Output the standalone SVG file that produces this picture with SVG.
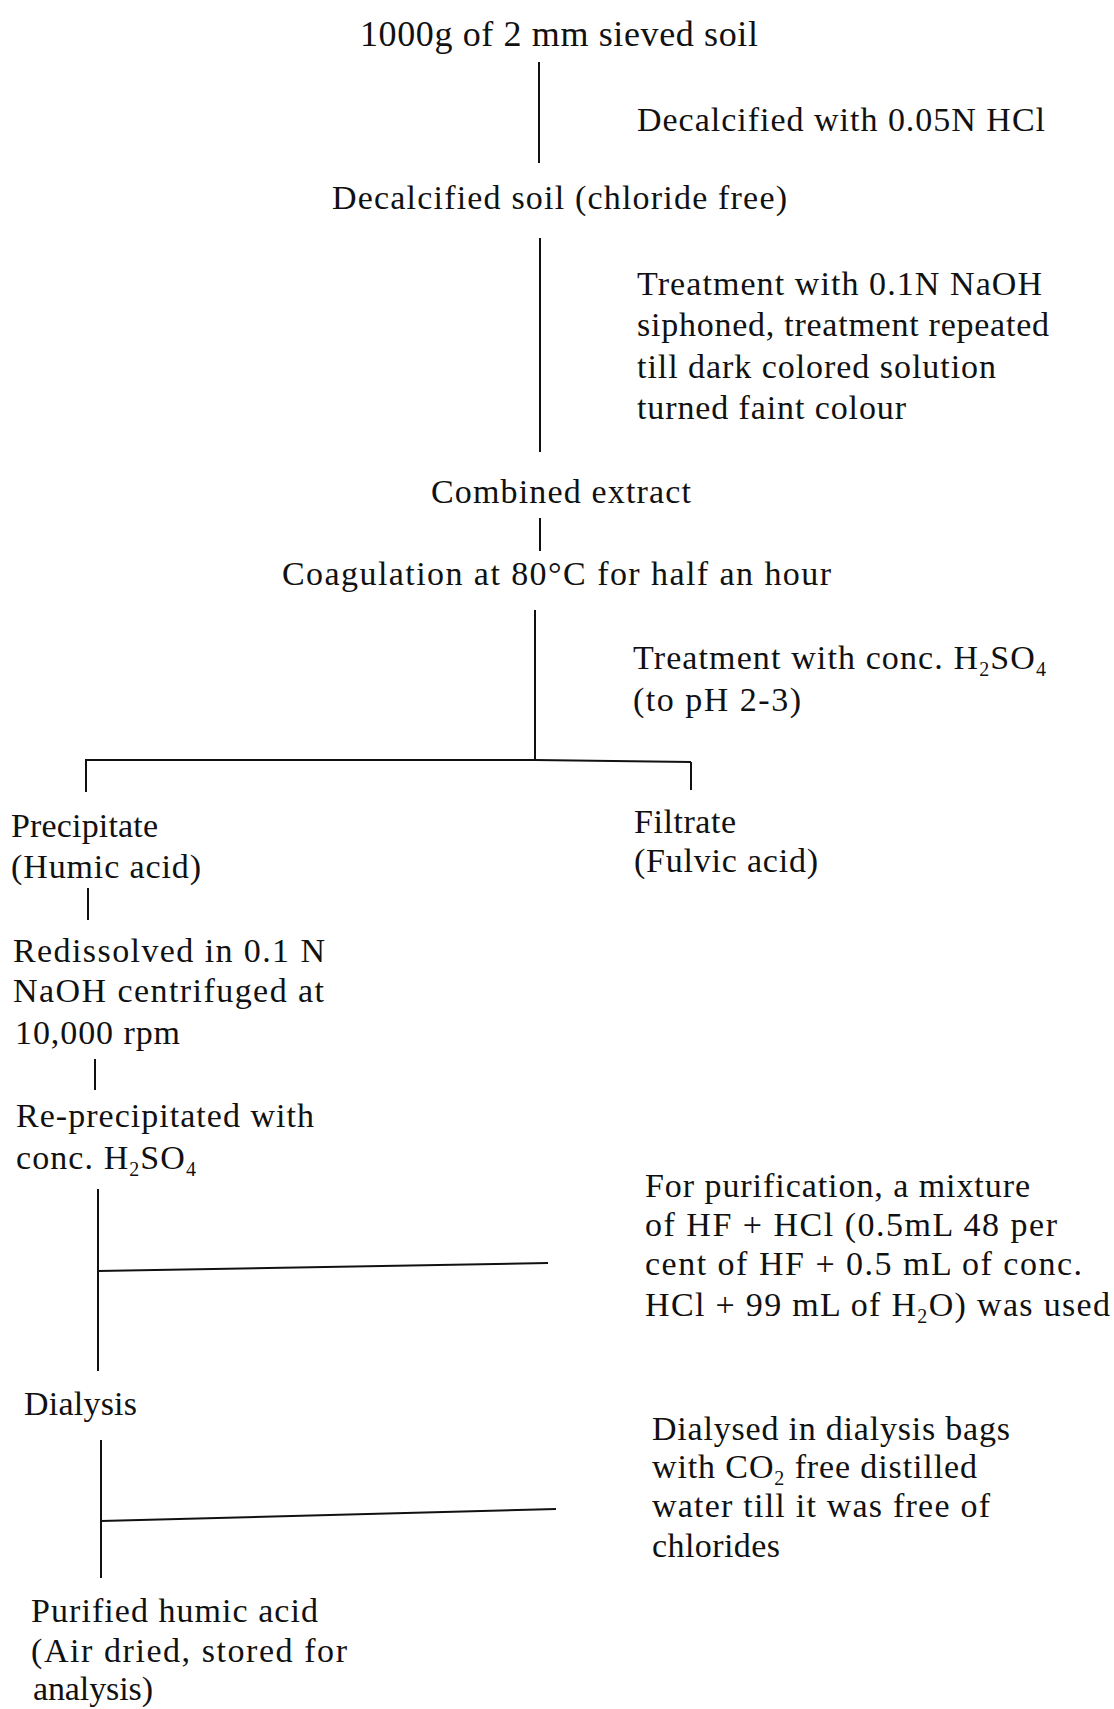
<svg xmlns="http://www.w3.org/2000/svg" width="1114" height="1709" viewBox="0 0 1114 1709">
<style>
text{font-family:"Liberation Serif","Times New Roman",serif;font-size:34px;fill:#111}
.t{font-size:36px}
.sub{font-size:20px}
.c line,.c path{stroke:#111;stroke-width:2;fill:none}
</style>
<rect width="1114" height="1709" fill="#fff"/>
<g class="c" id="connectors">
<line x1="539" y1="62" x2="539" y2="163"/>
<line x1="540" y1="238" x2="540" y2="452"/>
<line x1="540" y1="518" x2="540" y2="551"/>
<line x1="535" y1="610" x2="535" y2="760"/>
<path d="M85,760 L535,760 L691,762"/>
<line x1="86" y1="760" x2="86" y2="792"/>
<line x1="691" y1="762" x2="691" y2="790"/>
<line x1="88" y1="888" x2="88" y2="920"/>
<line x1="95" y1="1059" x2="95" y2="1090"/>
<line x1="98" y1="1189" x2="98" y2="1371"/>
<line x1="98" y1="1271" x2="548" y2="1263"/>
<line x1="101" y1="1440" x2="101" y2="1578"/>
<line x1="101" y1="1521" x2="556" y2="1509"/>
</g>
<g id="n1"><text class="t" x="360" y="46" textLength="398" lengthAdjust="spacing">1000g of 2 mm sieved soil</text></g>
<g id="s1"><text x="637" y="131" textLength="408" lengthAdjust="spacing">Decalcified with 0.05N HCl</text></g>
<g id="n2"><text x="332" y="209" textLength="455" lengthAdjust="spacing">Decalcified soil (chloride free)</text></g>
<g id="s2">
<text x="637" y="295" textLength="405" lengthAdjust="spacing">Treatment with 0.1N NaOH</text>
<text x="637" y="336" textLength="412" lengthAdjust="spacing">siphoned, treatment repeated</text>
<text x="637" y="378" textLength="359" lengthAdjust="spacing">till dark colored solution</text>
<text x="637" y="419" textLength="269" lengthAdjust="spacing">turned faint colour</text>
</g>
<g id="n3"><text x="431" y="503" textLength="260" lengthAdjust="spacing">Combined extract</text></g>
<g id="n4"><text x="282" y="585" textLength="549" lengthAdjust="spacing">Coagulation at 80°C for half an hour</text></g>
<g id="s3">
<text x="633" y="669" textLength="413" lengthAdjust="spacing">Treatment with conc. H<tspan class="sub" dy="7">2</tspan><tspan dy="-7">SO</tspan><tspan class="sub" dy="7">4</tspan></text>
<text x="633" y="711" textLength="168" lengthAdjust="spacing">(to pH 2-3)</text>
</g>
<g id="n5">
<text x="11" y="837" textLength="147" lengthAdjust="spacing">Precipitate</text>
<text x="11" y="878" textLength="190" lengthAdjust="spacing">(Humic acid)</text>
</g>
<g id="n6">
<text x="634" y="833" textLength="102" lengthAdjust="spacing">Filtrate</text>
<text x="634" y="872" textLength="184" lengthAdjust="spacing">(Fulvic acid)</text>
</g>
<g id="n7">
<text x="13" y="962" textLength="312" lengthAdjust="spacing">Redissolved in 0.1 N</text>
<text x="13" y="1002" textLength="311" lengthAdjust="spacing">NaOH centrifuged at</text>
<text x="15" y="1044" textLength="165" lengthAdjust="spacing">10,000 rpm</text>
</g>
<g id="n8">
<text x="16" y="1127" textLength="298" lengthAdjust="spacing">Re-precipitated with</text>
<text x="16" y="1169" textLength="180" lengthAdjust="spacing">conc. H<tspan class="sub" dy="7">2</tspan><tspan dy="-7">SO</tspan><tspan class="sub" dy="7">4</tspan></text>
</g>
<g id="s4">
<text x="645" y="1197" textLength="385" lengthAdjust="spacing">For purification, a mixture</text>
<text x="645" y="1236" textLength="412" lengthAdjust="spacing">of HF + HCl (0.5mL 48 per</text>
<text x="645" y="1275" textLength="437" lengthAdjust="spacing">cent of HF + 0.5 mL of conc.</text>
<text x="645" y="1316" textLength="465" lengthAdjust="spacing">HCl + 99 mL of H<tspan class="sub" dy="7">2</tspan><tspan dy="-7">O) was used</tspan></text>
</g>
<g id="n9"><text x="24" y="1415" textLength="113" lengthAdjust="spacing">Dialysis</text></g>
<g id="s5">
<text x="652" y="1440" textLength="358" lengthAdjust="spacing">Dialysed in dialysis bags</text>
<text x="652" y="1478" textLength="325" lengthAdjust="spacing">with CO<tspan class="sub" dy="7">2</tspan><tspan dy="-7"> free distilled</tspan></text>
<text x="652" y="1517" textLength="338" lengthAdjust="spacing">water till it was free of</text>
<text x="652" y="1557" textLength="128" lengthAdjust="spacing">chlorides</text>
</g>
<g id="n10">
<text x="31" y="1622" textLength="287" lengthAdjust="spacing">Purified humic acid</text>
<text x="31" y="1662" textLength="316" lengthAdjust="spacing">(Air dried, stored for</text>
<text x="33" y="1700" textLength="120" lengthAdjust="spacing">analysis)</text>
</g>
</svg>
